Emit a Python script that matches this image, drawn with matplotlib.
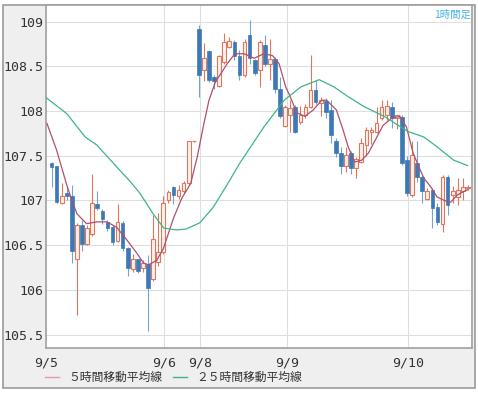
import numpy as np
import matplotlib.pyplot as plt
from matplotlib.patches import Rectangle

# hourly candles, index 0 = first bar on 9/5
opens = [107.42, 107.38, 106.97, 107.08, 107.05, 106.35, 106.72, 106.51, 106.62, 106.96,
         106.88, 106.76, 106.70, 106.55, 106.75, 106.47, 106.23, 106.34, 106.24, 106.29,
         106.12, 106.31, 106.42, 107.00, 107.15, 107.05, 107.11, 107.19, 107.66, 108.92,
         108.46, 108.67, 108.38, 108.28, 108.55, 108.72, 108.77, 108.62, 108.40, 108.85,
         108.57, 108.46, 108.74, 108.53, 108.58, 108.25, 107.83, 107.96, 108.05, 107.88,
         107.95, 108.05, 108.23, 108.09, 108.11, 108.01, 107.67, 107.53, 107.39, 107.53,
         107.36, 107.43, 107.62, 107.77, 107.77, 107.92, 107.95, 108.05, 107.92, 107.93,
         107.45, 107.06, 107.42, 107.26, 107.02, 107.12, 106.93, 106.74, 107.26, 107.06,
         107.04, 107.10, 107.14]
highs = [107.43, 107.38, 107.20, 107.15, 107.17, 106.75, 106.78, 106.72, 107.30, 107.10,
         106.90, 106.78, 106.72, 106.96, 106.77, 106.48, 106.40, 106.35, 106.33, 106.39,
         106.84, 106.86, 107.05, 107.12, 107.16, 107.17, 107.22, 107.67, 107.67, 108.96,
         108.76, 108.68, 108.40, 108.63, 108.87, 108.83, 108.79, 108.68, 108.80, 109.02,
         108.58, 108.79, 108.85, 108.81, 108.60, 108.38, 108.07, 108.12, 108.07, 108.06,
         108.08, 108.63, 108.35, 108.16, 108.14, 108.12, 107.70, 107.60, 107.60, 107.55,
         107.48, 107.70, 107.82, 107.82, 108.05, 108.12, 108.12, 108.10, 107.96, 107.96,
         107.50, 107.66, 107.66, 107.28, 107.14, 107.14, 106.97, 107.28, 107.28, 107.16,
         107.25, 107.25, 107.17]
lows = [107.15, 106.97, 106.96, 107.00, 106.30, 105.72, 106.43, 106.50, 106.60, 106.89,
        106.74, 106.66, 106.50, 106.53, 106.43, 106.15, 106.20, 106.19, 106.20, 105.54,
        106.10, 106.27, 106.40, 106.97, 106.96, 107.02, 107.08, 107.17, 107.65, 108.16,
        108.33, 108.32, 108.25, 108.27, 108.52, 108.70, 108.57, 108.35, 108.38, 108.53,
        108.40, 108.27, 108.50, 108.35, 108.20, 107.92, 107.82, 107.77, 107.75, 107.86,
        107.92, 108.03, 108.08, 107.94, 107.92, 107.64, 107.48, 107.30, 107.32, 107.30,
        107.25, 107.42, 107.50, 107.63, 107.75, 107.90, 107.90, 107.81, 107.80, 107.40,
        107.05, 107.04, 107.21, 106.97, 107.00, 106.69, 106.72, 106.65, 106.84, 106.97,
        106.95, 107.00, 107.12]
closes = [107.37, 106.98, 107.05, 107.05, 106.44, 106.73, 106.51, 106.69, 106.97, 106.91,
          106.79, 106.69, 106.54, 106.76, 106.47, 106.25, 106.35, 106.21, 106.30, 106.02,
          106.57, 106.42, 106.97, 107.09, 107.06, 107.12, 107.20, 107.66, 107.66, 108.40,
          108.59, 108.35, 108.34, 108.61, 108.77, 108.78, 108.62, 108.40, 108.77, 108.59,
          108.42, 108.77, 108.53, 108.58, 108.25, 107.94, 108.05, 108.03, 107.77, 107.96,
          108.05, 108.23, 108.10, 108.12, 107.99, 107.73, 107.53, 107.39, 107.51, 107.36,
          107.46, 107.64, 107.79, 107.79, 107.87, 108.05, 108.06, 107.92, 107.95, 107.42,
          107.08, 107.51, 107.26, 107.10, 107.10, 106.91, 106.76, 107.26, 106.95, 107.10,
          107.12, 107.15, 107.15]

# moving averages (bar index, value)
ma5_x = [-0.9, 1.0, 3.0, 4.0, 5.0, 6.9, 8.9, 10.9, 12.8, 14.8, 16.8, 18.1, 19.1, 20.7,
         22.0, 24.0, 25.6, 27.4, 28.7, 30.0, 31.0, 32.3, 33.6, 34.6, 36.1, 37.9, 39.9,
         41.8, 43.5, 44.8, 46.1, 47.0, 48.3, 49.9, 51.5, 53.2, 54.2, 56.1, 57.4, 58.4,
         59.7, 61.1, 62.4, 63.7, 65.3, 67.0, 68.6, 69.9, 71.2, 72.3, 73.3, 74.7, 75.9,
         77.3, 78.6, 79.9, 81.2, 82.0]
ma5_y = [107.86, 107.56, 107.17, 107.00, 106.85, 106.74, 106.76, 106.76, 106.70, 106.56,
         106.41, 106.30, 106.28, 106.33, 106.46, 106.80, 107.02, 107.19, 107.49, 107.86,
         108.12, 108.33, 108.44, 108.53, 108.64, 108.64, 108.59, 108.64, 108.62, 108.53,
         108.27, 108.16, 107.98, 107.94, 108.01, 108.12, 108.12, 108.01, 107.79, 107.60,
         107.43, 107.45, 107.53, 107.67, 107.84, 107.92, 107.94, 107.82, 107.53, 107.38,
         107.25, 107.15, 107.04, 107.00, 106.98, 107.06, 107.10, 107.12]
ma25_x = [-1.1, 3.0, 6.6, 8.9, 12.1, 15.5, 17.4, 20.0, 22.1, 24.6, 26.5, 29.2, 31.8,
          34.5, 37.1, 41.8, 45.8, 49.1, 52.7, 55.6, 58.4, 61.5, 65.5, 70.2, 73.3, 75.9,
          79.2, 81.9]
ma25_y = [108.15, 107.97, 107.71, 107.62, 107.42, 107.21, 107.08, 106.85, 106.69, 106.67,
          106.68, 106.75, 106.92, 107.17, 107.42, 107.82, 108.12, 108.27, 108.35, 108.27,
          108.16, 108.05, 107.94, 107.77, 107.71, 107.60, 107.45, 107.39]

date_labels = ['9/5', '9/6', '9/8', '9/9', '9/10']
date_pos = [-1.1, 22.1, 29.2, 46.3, 70.2]
y_ticks = [105.5, 106, 106.5, 107, 107.5, 108, 108.5, 109]

up_edge = '#e0765c'
up_fill = '#fdf1ec'
dn_fill = '#3d79b6'
dn_wick = '#74a3d2'
ma5_col = '#b0506e'
ma25_col = '#3fb586'

fig = plt.figure(figsize=(4.78, 3.93), dpi=100)
W, H = 478, 393

# grey frame panels behind the plot
fig.patches.append(Rectangle((3 / W, 1 - 388 / H), 472 / W, 383 / H, transform=fig.transFigure,
                             facecolor='#efefef', edgecolor='#9a9a9a', linewidth=1.2, zorder=-10))

ax = fig.add_axes([46 / W, 1 - 348 / H, 426 / W, 343 / H])
ax.set_zorder(5)
ax.set_facecolor('white')

o = np.array(opens)
h = np.array(highs)
l = np.array(lows)
c = np.array(closes)
idx = np.arange(len(o))
up = c >= o

ax.vlines(idx[up], l[up], h[up], color=up_edge, linewidth=0.8, zorder=2)
ax.vlines(idx[~up], l[~up], h[~up], color=dn_wick, linewidth=0.8, zorder=2)
ax.bar(idx[up], c[up] - o[up], bottom=o[up], width=0.72, facecolor=up_fill,
       edgecolor=up_edge, linewidth=0.8, zorder=3)
ax.bar(idx[~up], o[~up] - c[~up], bottom=c[~up], width=0.72, facecolor=dn_fill,
       edgecolor=dn_fill, linewidth=0.5, zorder=3)

ax.plot(ma5_x, ma5_y, color=ma5_col, linewidth=0.9, zorder=4)
ax.plot(ma25_x, ma25_y, color=ma25_col, linewidth=0.9, zorder=4)

ax.set_xlim(-1.1, 82.8)
ax.set_ylim(105.35, 109.185)
ax.set_yticks(y_ticks)
ax.set_yticklabels([f'{v:g}' for v in y_ticks], family='DejaVu Sans Mono', fontsize=9.5, color='#333333')
ax.set_xticks(date_pos)
ax.set_xticklabels(date_labels, family='DejaVu Sans Mono', fontsize=9.5, color='#333333')
ax.tick_params(length=0, pad=2)
ax.tick_params(axis='x', pad=6)
for v in y_ticks:
    ax.axhline(v, color='#dedede', linewidth=0.8, zorder=1)
for p in date_pos[1:]:
    ax.axvline(p, color='#dedede', linewidth=0.8, zorder=1)
for s in ax.spines.values():
    s.set_color('#a0a0a0')
    s.set_linewidth(1.2)

ax.text(0.998, 0.985, '1時間足', transform=ax.transAxes, ha='right', va='top',
        fontsize=7.5, color='#45b4e0', family=['Noto Sans CJK JP', 'DejaVu Sans'])

# legend row
jp = ['Noto Sans CJK JP', 'DejaVu Sans']
fig.lines.append(plt.Line2D([45 / W, 59 / W], [1 - 377 / H] * 2, transform=fig.transFigure,
                            color='#e39aaa', linewidth=1))
fig.text(68 / W, 1 - 377 / H, '５時間移動平均線', va='center', fontsize=8.5, color='#333333', family=jp)
fig.lines.append(plt.Line2D([173 / W, 187 / W], [1 - 377 / H] * 2, transform=fig.transFigure,
                            color=ma25_col, linewidth=1))
fig.text(196 / W, 1 - 377 / H, '２５時間移動平均線', va='center', fontsize=8.5, color='#333333', family=jp)

fig.savefig('out.png', dpi=100)
